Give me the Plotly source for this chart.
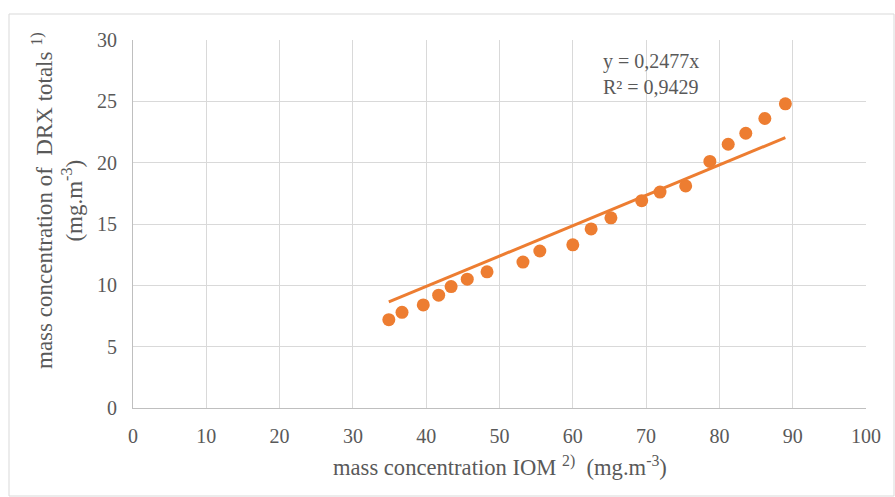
import plotly.graph_objects as go

iom = [34.9, 36.7, 39.6, 41.7, 43.4, 45.6, 48.3, 53.2, 55.5, 60.0,
       62.5, 65.2, 69.4, 71.9, 75.4, 78.7, 81.2, 83.6, 86.2, 89.0]
drx = [7.2, 7.8, 8.4, 9.2, 9.9, 10.5, 11.1, 11.9, 12.8, 13.3,
       14.6, 15.5, 16.9, 17.6, 18.1, 20.1, 21.5, 22.4, 23.6, 24.8]
slope = 0.2477
r2_label = "R² = 0,9429"
eq_label = "y = 0,2477x"
x_title = "mass concentration IOM <sup>2)</sup>  (mg.m<sup>-3</sup>)"
y_title = "mass concentration of  DRX totals <sup>1)</sup><br>(mg.m<sup>-3</sup>)"

x_ticks = list(range(0, 101, 10))
y_ticks = list(range(0, 31, 5))

orange = "#ED7D31"
font_family = '"Liberation Serif", "Times New Roman", serif'
txt = "#595959"

trend_x = [min(iom), max(iom)]
trend_y = [slope * v for v in trend_x]

fig = go.Figure()
fig.add_trace(go.Scatter(x=trend_x, y=trend_y, mode="lines",
                         line=dict(color=orange, width=3), showlegend=False,
                         hoverinfo="skip"))
fig.add_trace(go.Scatter(x=iom, y=drx, mode="markers",
                         marker=dict(color=orange, size=13), showlegend=False))

fig.update_layout(
    width=895, height=497,
    margin=dict(l=133, r=29, t=40, b=89),
    paper_bgcolor="white", plot_bgcolor="white",
    font=dict(family=font_family, color=txt, size=20),
    xaxis=dict(range=[0, 100], tickvals=x_ticks, showgrid=True,
               gridcolor="#D9D9D9", gridwidth=1, zeroline=False,
               showline=True, linecolor="#BFBFBF", linewidth=1,
               ticks="", ticklabelstandoff=10,
               tickfont=dict(family=font_family, size=20, color=txt)),
    yaxis=dict(range=[0, 30], tickvals=y_ticks, showgrid=True,
               gridcolor="#D9D9D9", gridwidth=1, zeroline=False,
               showline=True, linecolor="#BFBFBF", linewidth=1,
               ticks="", ticklabelstandoff=11,
               tickfont=dict(family=font_family, size=20, color=txt)),
    annotations=[
        dict(x=63.8, y=27.2, xref="x", yref="y",
             text=eq_label + "<br>" + r2_label, showarrow=False,
             xanchor="left", yanchor="middle", align="left",
             font=dict(family=font_family, size=20, color=txt)),
        dict(x=0.5, y=-58 / 368, xref="paper", yref="paper",
             text=x_title, showarrow=False, xanchor="center", yanchor="middle",
             font=dict(family=font_family, size=22.6, color=txt)),
        dict(x=-76 / 733, y=207 / 368, xref="paper", yref="paper",
             text=y_title, showarrow=False, textangle=-90,
             xanchor="center", yanchor="middle",
             font=dict(family=font_family, size=23, color=txt)),
    ],
    shapes=[dict(type="rect", xref="paper", yref="paper",
                 x0=-124 / 733, x1=1 + 28 / 733, y0=-88 / 368, y1=1 + 26 / 368,
                 line=dict(color="#D9D9D9", width=1), fillcolor="rgba(0,0,0,0)",
                 layer="below")],
)

fig.write_html("out.html")
